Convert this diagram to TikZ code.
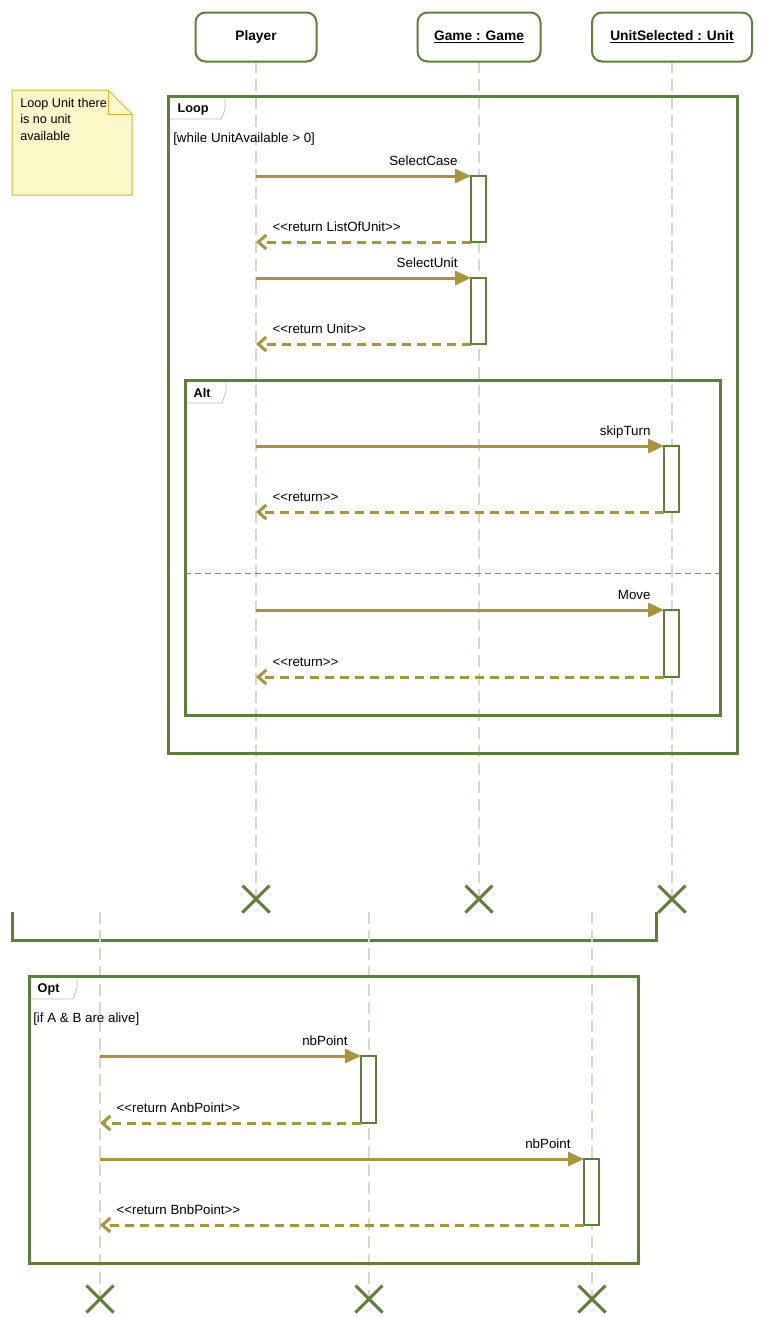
\documentclass[tikz,border=0pt]{standalone}
\usepackage{fontspec}
\setmainfont{Liberation Sans}[Ligatures=TeXOff]
\usepackage{tikz}
\usetikzlibrary{arrows.meta}
\usetikzlibrary{shapes.misc}
\usepackage{xcolor}
\definecolor{frameGreen}{HTML}{5E7F3A}
\definecolor{msgOlive}{HTML}{A8943A}
\definecolor{lifeGray}{HTML}{D6D9C2}
\definecolor{noteFill}{HTML}{FBF7C8}
\definecolor{noteEdge}{HTML}{D4B52C}

\begin{document}
\begin{tikzpicture}[x=0.75pt,y=-0.75pt,font=\fontsize{10}{12}\selectfont,
  head/.style={draw=frameGreen,line width=1.5pt,rounded corners=7.5pt,fill=white,minimum height=36.75pt,font=\fontsize{10.3}{12}\selectfont\bfseries},
  life/.style={lifeGray,line width=1.5pt,dash pattern=on 9pt off 4.5pt},
  act/.style={draw=frameGreen,line width=1.5pt,fill=white,minimum width=11.25pt,inner sep=0pt,outer sep=0pt,anchor=north west},
  call/.style={msgOlive,line width=2.25pt,-{Triangle[length=12pt,width=10.5pt]}},
  ret/.style={msgOlive,line width=2.25pt,dash pattern=on 6.75pt off 4.5pt,-{Straight Barb[length=6pt,width=10.5pt]}},
  callLbl/.style={anchor=base east,xshift=-9pt,yshift=8.25pt,text=black,inner sep=0pt},
  retLbl/.style={anchor=base west,xshift=11.25pt,yshift=8.25pt,text=black,inner sep=0pt},
  frame/.style={draw=frameGreen,line width=2.25pt},
  tab/.style={draw=black!25,fill=white,line width=0.6pt},
  kill/.style={cross out,draw=frameGreen,line width=2.25pt,minimum size=18pt,inner sep=0pt}]
\useasboundingbox (0,0) rectangle (763,1317);

% lifelines
\coordinate (playerEnd) at (256,899);
\coordinate (gameEnd) at (479,899);
\coordinate (unitEnd) at (672,899);
\draw[life] (256,61) -- (playerEnd);
\draw[life] (479,61) -- (gameEnd);
\draw[life] (672,61) -- (unitEnd);
\node[head,minimum width=90.75pt] (player) at (256,37) {Player};
\node[head,minimum width=92.25pt] (game) at (479,37) {\underline{Game : Game}};
\node[head,minimum width=120pt] (unit) at (672,37) {\underline{UnitSelected : Unit}};

% note
\draw[draw=noteEdge,fill=noteFill,line width=0.75pt] (12,90) -- (108,90) -- (132,114) -- (132,195) -- (12,195) -- cycle;
\draw[noteEdge,line width=0.75pt] (108,90) -- (108,114) -- (132,114);
\node[anchor=north west,inner sep=0pt,align=left,font=\fontsize{9.5}{12.4}\selectfont] (noteTxt) at (20,98) {Loop Unit there\\is no unit\\available};

% loop
\draw[tab] (168,96) -- (225,96) -- (225,110) -- (221,119) -- (168,119) -- cycle;
\draw[frame] (168,96) rectangle (737,753);
\node[anchor=west,font=\fontsize{9.5}{11.4}\selectfont\bfseries] (loopLbl) at (173,109) {Loop};
\node[anchor=base west,inner sep=0pt] (loopGuard) at (173,142) {[while UnitAvailable > 0]};

\node[act,minimum height=49.5pt] (act1) at (471,176) {};
\coordinate (m1) at (256,176);
\coordinate (r1) at (256,242);
\draw[call] (m1) -- (act1.north west) node[callLbl] {SelectCase};
\draw[ret] (act1.south west) -- (r1) node[retLbl] {<<return ListOfUnit>>};

\node[act,minimum height=49.5pt] (act2) at (471,278) {};
\coordinate (m2) at (256,278);
\coordinate (r2) at (256,344);
\draw[call] (m2) -- (act2.north west) node[callLbl] {SelectUnit};
\draw[ret] (act2.south west) -- (r2) node[retLbl] {<<return Unit>>};

% alt
\draw[tab] (185,380) -- (226,380) -- (226,392) -- (222,403) -- (185,403) -- cycle;
\draw[frame] (185,380) rectangle (720,715);
\node[anchor=west,font=\fontsize{9.5}{11.4}\selectfont\bfseries] (altLbl) at (189,393) {Alt};
\draw[black!50,line width=0.75pt,dash pattern=on 4.5pt off 3pt] (185,573) -- (720,573);

\node[act,minimum height=49.5pt] (act3) at (664,446) {};
\coordinate (m3) at (256,446);
\coordinate (r3) at (256,512);
\draw[call] (m3) -- (act3.north west) node[callLbl] {skipTurn};
\draw[ret] (act3.south west) -- (r3) node[retLbl] {<<return>>};

\node[act,minimum height=50.25pt] (act4) at (664,610) {};
\coordinate (m4) at (256,610);
\coordinate (r4) at (256,677);
\draw[call] (m4) -- (act4.north west) node[callLbl] {Move};
\draw[ret] (act4.south west) -- (r4) node[retLbl] {<<return>>};

\node[kill] (killPlayer) at (playerEnd) {};
\node[kill] (killGame) at (gameEnd) {};
\node[kill] (killUnit) at (unitEnd) {};

\draw[frame] (12,912) -- (12,940) -- (656,940) -- (656,912);

% second part
\coordinate (aEnd) at (100,1299);
\coordinate (bEnd) at (369,1299);
\coordinate (cEnd) at (592,1299);
\draw[life] (100,912) -- (aEnd);
\draw[life] (369,912) -- (bEnd);
\draw[life] (592,912) -- (cEnd);

\draw[tab] (29,976) -- (77,976) -- (77,988) -- (73,999) -- (29,999) -- cycle;
\draw[frame] (29,976) rectangle (638,1263);
\node[anchor=west,font=\fontsize{9.5}{11.4}\selectfont\bfseries] (optLbl) at (33,989) {Opt};
\node[anchor=base west,inner sep=0pt] (optGuard) at (33,1022) {[if A \& B are alive]};

\node[act,minimum height=50.25pt] (act5) at (361,1056) {};
\coordinate (m5) at (100,1056);
\coordinate (r5) at (100,1123);
\draw[call] (m5) -- (act5.north west) node[callLbl] {nbPoint};
\draw[ret] (act5.south west) -- (r5) node[retLbl] {<<return AnbPoint>>};

\node[act,minimum height=49.5pt] (act6) at (584,1159) {};
\coordinate (m6) at (100,1159);
\coordinate (r6) at (100,1225);
\draw[call] (m6) -- (act6.north west) node[callLbl] {nbPoint};
\draw[ret] (act6.south west) -- (r6) node[retLbl] {<<return BnbPoint>>};

\node[kill] (killA) at (aEnd) {};
\node[kill] (killB) at (bEnd) {};
\node[kill] (killC) at (cEnd) {};

\end{tikzpicture}
\end{document}
